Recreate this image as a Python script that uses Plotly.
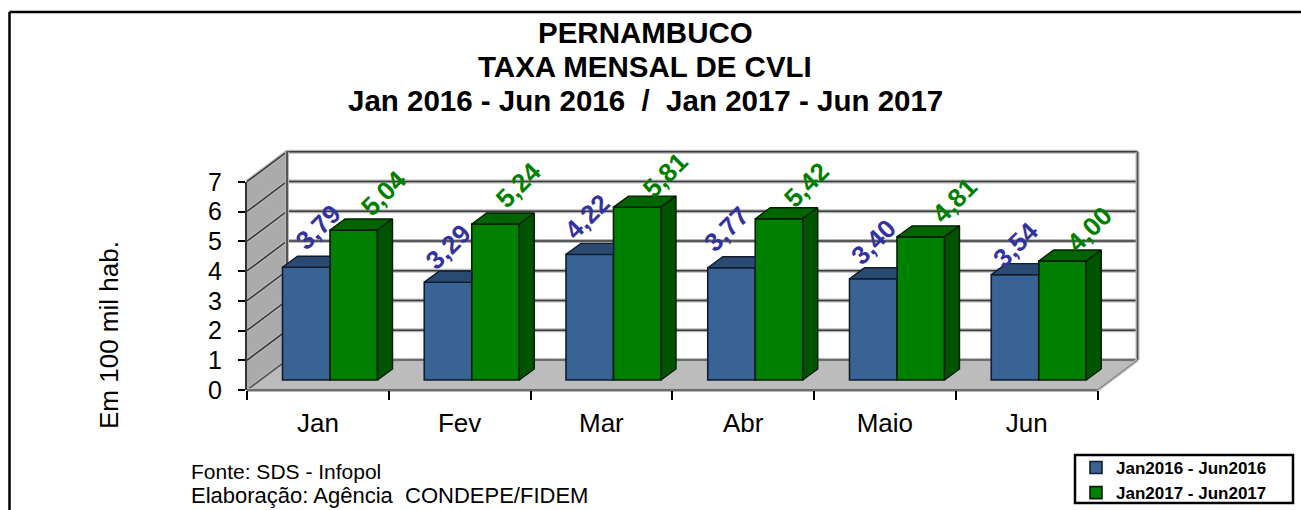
import plotly.graph_objects as go

# ---- data ----
categories = ["Jan", "Fev", "Mar", "Abr", "Maio", "Jun"]
serie_2016 = [3.79, 3.29, 4.22, 3.77, 3.40, 3.54]
serie_2017 = [5.04, 5.24, 5.81, 5.42, 4.81, 4.00]
nome_2016 = "Jan2016 - Jun2016"
nome_2017 = "Jan2017 - Jun2017"
y_ticks = [0, 1, 2, 3, 4, 5, 6, 7]
titulo = ["PERNAMBUCO", "TAXA MENSAL DE CVLI", "Jan 2016 - Jun 2016  /  Jan 2017 - Jun 2017"]

# ---- layout constants ----
W, H = 1301, 510
FONT = "Liberation Sans"
CAT_PX, VAL_PX = 141.75, 29.76     # pixels per category / per unit
ORIGIN_X, ORIGIN_Y = 330, 380      # pixel of first category centre, value 0 (bars plane)
BAR_W = 47.5 / CAT_PX
DX, DY = 15 / CAT_PX, 11 / VAL_PX  # depth of a bar
FRONT_X, FRONT_Y = (247 - ORIGIN_X) / CAT_PX, (390 - ORIGIN_Y) / -VAL_PX  # floor front
BACK_DX, BACK_DY = 40 / CAT_PX, 30 / VAL_PX  # floor depth
N = len(categories)
YMAX = y_ticks[-1]
XL, XR = FRONT_X, FRONT_X + N
PX_L, PX_R, PX_T, PX_B = 200, 1200, 120, 420

def xdom(a, b):
    return [a / W, b / W]

def ydom(top, bottom):
    return [1 - bottom / H, 1 - top / H]

fig = go.Figure()

def poly(xs, ys, color, ax="", line=None):
    fig.add_trace(go.Scatter(x=xs, y=ys, mode="lines", fill="toself", fillcolor=color,
                             line=dict(color=line or color, width=1.4), hoverinfo="skip",
                             showlegend=False, xaxis="x" + ax, yaxis="y" + ax))

def stroke(xs, ys, core="#3a3a3a", width=1.6):
    for c, w in (("#b8b8b8", width + 2.4), (core, width)):
        fig.add_trace(go.Scatter(x=xs, y=ys, mode="lines", line=dict(color=c, width=w),
                                 hoverinfo="skip", showlegend=False, xaxis="x", yaxis="y"))

# walls and floor
yb_f, yb_b = FRONT_Y, FRONT_Y + BACK_DY
poly([XL, XL + BACK_DX, XL + BACK_DX, XL, XL],
     [yb_f, yb_b, yb_b + YMAX, yb_f + YMAX, yb_f], "#ababab")
poly([XL, XL + BACK_DX, XR + BACK_DX, XR, XL],
     [yb_f, yb_b, yb_b, yb_f, yb_f], "#bcbcbc")
for v in y_ticks:
    stroke([XL, XL + BACK_DX, XR + BACK_DX], [yb_f + v, yb_b + v, yb_b + v],
           core="#3a3a3a" if v else "#555555")
stroke([XL + BACK_DX, XL + BACK_DX], [yb_b, yb_b + YMAX])
stroke([XR + BACK_DX, XR + BACK_DX], [yb_b, yb_b + YMAX], core="#555555")
stroke([XR, XR + BACK_DX], [yb_f, yb_b], core="#777777", width=1)
stroke([XL, XR], [yb_f, yb_f], core="#555555")

# front axes (invisible trace only to create the category axis)
fig.add_trace(go.Scatter(x=categories, y=[0] * N, mode="markers", marker=dict(opacity=0),
                         hoverinfo="skip", showlegend=False, xaxis="x3", yaxis="y3"))

# bars
xpos = list(range(N))
fig.add_trace(go.Bar(x=xpos, y=serie_2016, width=BAR_W, offset=-BAR_W, name=nome_2016,
                     marker=dict(color="#3a6395", line=dict(color="#111c2e", width=1.6)),
                     xaxis="x2", yaxis="y2", hoverinfo="y"))
fig.add_trace(go.Bar(x=xpos, y=serie_2017, width=BAR_W, offset=0, name=nome_2017,
                     marker=dict(color="#008000", line=dict(color="#041c04", width=1.6)),
                     xaxis="x2", yaxis="y2", hoverinfo="y"))

# depth faces
for c, v in zip(xpos, serie_2016):
    poly([c - BAR_W, c - BAR_W + DX, c, c, c - BAR_W],
         [v, v + DY, v + DY, v, v], "#2a4a72", ax="2", line="#111c2e")
for c, v in zip(xpos, serie_2017):
    r = c + BAR_W
    poly([c, c + DX, r + DX, r, c], [v, v + DY, v + DY, v, v], "#006400", ax="2", line="#041c04")
    poly([r, r + DX, r + DX, r, r], [0, DY, v + DY, v, 0], "#005400", ax="2", line="#041c04")

# data labels
shift_2016 = [(12, -40), (0, -35), (-2, -38), (-5, -39), (0, -37), (0, -30)]
shift_2017 = [(30, -37), (23, -39), (28, -32), (27, -34), (34, -37), (27, -32)]
ann = []
for vals, shifts, col, sgn in ((serie_2016, shift_2016, "#3333a0", -1),
                               (serie_2017, shift_2017, "#008000", 1)):
    for c, v, (sx, sy) in zip(xpos, vals, shifts):
        ann.append(dict(x=c + sgn * BAR_W / 2, y=v, xref="x2", yref="y2", xshift=sx, yshift=-sy,
                        text=f"{v:.2f}".replace(".", ","), showarrow=False, textangle=-45,
                        font=dict(family=FONT, size=26, color=col, weight="bold")))

def paper(x, y, xanchor="center"):
    return dict(x=x / W, y=1 - y / H, xref="paper", yref="paper", showarrow=False,
                xanchor=xanchor, yanchor="middle")

for linha, ypx in zip(titulo, (33, 67, 101)):
    ann.append(dict(**paper(645, ypx), text=linha,
                    font=dict(family=FONT, size=29.5, color="black", weight="bold")))
ann.append(dict(**paper(109, 335), text="Em 100 mil hab.", textangle=-90,
                font=dict(family=FONT, size=26, color="black")))
ann.append(dict(**paper(189, 471, "left"), text="Fonte: SDS - Infopol",
                font=dict(family=FONT, size=21, color="black")))
ann.append(dict(**paper(189, 495, "left"), text="Elaboração: Agência  CONDEPE/FIDEM",
                font=dict(family=FONT, size=22, color="black")))

frame = dict(type="line", xref="paper", yref="paper", line=dict(color="black", width=2.5))
shapes = [dict(frame, x0=9.5 / W, x1=9.5 / W, y0=0, y1=1 - 12 / H),
          dict(frame, x0=9.5 / W, x1=1, y0=1 - 12 / H, y1=1 - 12 / H),
          dict(type="rect", xref="paper", yref="paper", x0=1075 / W, x1=1293 / W,
               y0=1 - 503 / H, y1=1 - 455 / H, line=dict(color="black", width=2.5))]

hidden = dict(visible=False, showgrid=False, zeroline=False)
rx = [(PX_L - ORIGIN_X) / CAT_PX, (PX_R - ORIGIN_X) / CAT_PX]
ry = [(ORIGIN_Y - PX_B) / VAL_PX, (ORIGIN_Y - PX_T) / VAL_PX]
main_x = dict(hidden, domain=xdom(PX_L, PX_R), range=rx)
main_y = dict(hidden, domain=ydom(PX_T, PX_B), range=ry)

fig.update_layout(
    width=W, height=H, margin=dict(l=0, r=0, t=0, b=0, pad=0, autoexpand=False),
    paper_bgcolor="white", plot_bgcolor="rgba(0,0,0,0)", barmode="overlay",
    font=dict(family=FONT, color="black"),
    xaxis=main_x, yaxis=main_y,
    xaxis2=dict(main_x, overlaying="x", anchor="y2"),
    yaxis2=dict(main_y, overlaying="y", anchor="x2"),
    xaxis3=dict(domain=xdom(247, 1097.5), anchor="y3", type="category",
                categoryorder="array", categoryarray=categories, tickson="boundaries",
                ticks="outside", ticklen=9, tickwidth=2, tickcolor="black", showgrid=False,
                zeroline=False, showline=False, range=[-0.5, N - 0.5],
                tickfont=dict(family=FONT, size=26, color="black"), ticklabelstandoff=15),
    yaxis3=dict(domain=ydom(182, 390), anchor="x3", range=[0, YMAX],
                tickvals=y_ticks, ticks="outside", ticklen=7, tickwidth=2, tickcolor="black",
                showgrid=False, zeroline=False, showline=True, linecolor="#333333", linewidth=2,
                tickfont=dict(family=FONT, size=25, color="black"), ticklabelstandoff=11),
    legend=dict(x=1076 / W, y=1 - 450 / H, xanchor="left", yanchor="top", orientation="v",
                bgcolor="rgba(0,0,0,0)", borderwidth=0,
                font=dict(family=FONT, size=17, color="black", weight="bold")),
    annotations=ann, shapes=shapes,
)

fig.write_html("out.html", config=dict(displayModeBar=False),
               post_script="document.body.style.margin='0';")
